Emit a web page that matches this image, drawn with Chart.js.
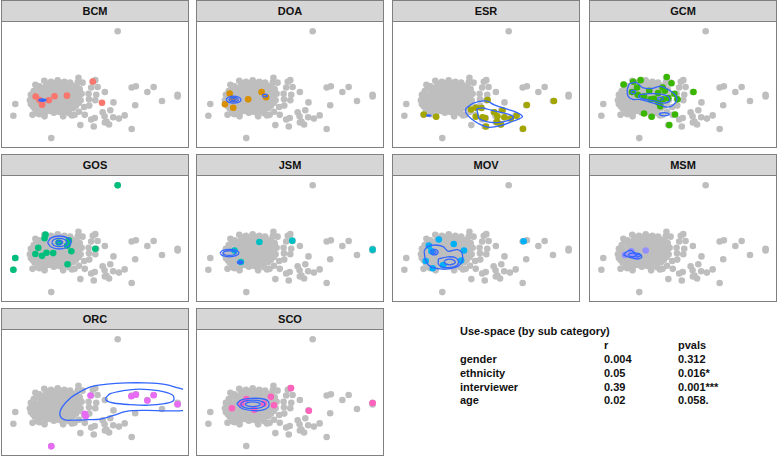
<!DOCTYPE html>
<html>
<head>
<meta charset="utf-8">
<script src="https://cdn.jsdelivr.net/npm/chart.js@4.4.0/dist/chart.umd.min.js"></script>
<style>
  html, body { margin:0; padding:0; background:#fff; }
  #wrap { position:relative; width:778px; height:456px; overflow:hidden; font-family:"Liberation Sans", Arial, sans-serif; }
  .panel { position:absolute; width:188px; height:148px; box-sizing:border-box; border:1px solid #808080; background:#fff; }
  .strip { position:absolute; left:0; top:0; right:0; height:20px; background:#d6d6d6; border-bottom:1px solid #808080;
           font-weight:bold; font-size:11px; line-height:20px; text-align:center; color:#111; }
  .plot { position:absolute; left:0; top:21px; width:186px; height:125px; }
  .plot canvas { display:block; }
  .tbl { position:absolute; font-weight:bold; font-size:11px; line-height:14px; color:#111; white-space:nowrap; }
</style>
</head>
<body>
<div id="wrap"></div>
<script>
// ---------------- data (plot units: x 0..186, y 0..126) ----------------
const categories = ['BCM','DOA','ESR','GCM','GOS','JSM','MOV','MSM','ORC','SCO'];
const catColors  = ['#F8766D','#D89000','#A3A500','#39B600','#00BF7D','#00BFC4','#00B0F6','#9590FF','#E76BF3','#FF62BC'];

// all observations (shown grey in every panel)
const allPoints = [
  [116.7,120.3],[47.3,5.3],[9.7,42],[7.7,29.3],[131.3,59.7],[135.7,61],[154.3,60.3],[147.7,55],
  [179.3,52],[179.3,50],[163,45.3],[135,40.7],[131.3,15],[124,29.7],[118,26.3],[112,27.7],
  [103.3,22],[107.7,20],[105,23],[109,35.3],[112.3,43.7],[103.3,55],[95.7,60.3],[93.3,67.7],
  [90.7,66],[89,59.7],[94.3,52],[86.3,53],[86.7,47],[93.3,46],[87,40.3],[81.7,38.7],
  [101,33],[103,28.7],[91.7,17.7],[89,25.3],[92.7,27],[77.7,19.3],[82.3,30.3],[76.3,33.7],
  [71.7,30.3],[69,29.7],[59.7,28.7],[40.3,28.7],[27.7,30.3],[35,31],[75.7,70.3],[80,65],
  [75,65.3],[30.7,62.7],
  [40,67],[47,66],[54,67.5],[61,66],[67,65],
  [35,61],[42,62],[49,61],[56,62.5],[63,61],[69,62],[74,60],
  [29,56],[36,57],[43,56],[50,57.5],[57,56],[64,57],[70,56],[77,58],
  [26,52],[33,51],[40,52.5],[47,51],[54,52],[61,51.5],[68,52],[74,51],[79,53],
  [25,46],[32,47],[39,46],[46,47.5],[53,46],[60,47],[67,46.5],[73,47],[78,46],
  [26,42],[33,41],[40,42.5],[47,41],[54,42],[61,41.5],[68,42],[73,40],
  [30,37],[37,36],[44,37.5],[51,36],[58,37],[65,36],[70,37.5],
  [33,32],[41,33],[50,32.5],[57,33],[66,32],
  [44,64],[51,64],[58,64.5],[64,63],
  [32,58.5],[39,59],[46,59.5],[53,59],[60,59.5],[67,59],[73,57.5],
  [29,54],[37,54.5],[44,54],[51,54.5],[58,54],[65,54.5],[71,54],[77,55],
  [28,49],[36,49.5],[43,49],[50,49.5],[57,49],[64,49.5],[71,49],[76,50],
  [29,44],[36,44.5],[43,44],[50,44.5],[57,44],[64,44.5],[70,44],[76,43],
  [28,39.5],[35,39],[42,39.5],[49,39],[56,39.5],[63,39],[69,39.5],
  [35,34.5],[46,34.5],[54,34],[62,34.5]
];

// observations of each sub category
const ptsBCM = [[90.7,66.3],[31,50],[50.7,50.3],[63.7,51],[100.3,43.3],[37.7,41.3],[35,46.3],[44.7,46]];
const ptsDOA = [[30,53.3],[25,41.7],[33.7,38],[49.3,47],[63.3,55],[68,49.3],[33.7,47]];
const ptsESR = [[28,30.7],[41,28.3],[77.3,36],[82.7,38],[88.3,37.7],[94.7,46.3],[82.3,28.3],[92,27],
  [101.7,33],[105,28.7],[112.3,27.7],[110.3,35.3],[119,26.3],[125,29.3],[104.3,22.7],[108.7,20],
  [93,17.7],[131.7,15.3],[135.7,41],[164,45.3],[89.3,27.7]];
const ptsGCM = [[31,63],[41,66],[48.7,67.7],[76,71],[81,64.3],[45,59.7],[39.7,55],[57.7,56.3],
  [71.7,59.7],[67,53.7],[74,56.3],[84,53],[104,55],[77.7,48.3],[87.3,47],[72.3,47],[62.7,47.7],
  [52.3,50.3],[45.7,52],[67.3,43.7],[52.3,31.7],[60.3,28.3],[84.7,30.7],[78.7,19.3],[69.3,39.7],[59,47]];
const ptsGOS = [[116.7,120.3],[9.7,42],[7.7,29.3],[41.3,67.3],[40.3,63.3],[33.7,53],[30.7,46.3],[37.7,44.3],
  [42.3,47.7],[49.3,47.3],[64.3,35.3],[68.3,49.3],[64,55.3],[93.3,52],[55,58.7],[65.7,61]];
const ptsJSM = [[61,59.3],[95.3,60.7],[179.3,51],[35,50],[41.7,37.7]];
const ptsMOV = [[132.3,60],[43.7,62],[59.3,57],[33.3,55.3],[70,50],[30,38.7],[37.3,31],[36,49.3],[67,39.3],[48.3,34.3]];
const ptsMSM = [[54,50],[39,49.3],[32.3,45.3],[44,43.3],[40.7,45.3]];
const ptsORC = [[88.3,59.7],[131,59],[135.7,60.7],[154.3,60],[147.7,54.3],[179.3,50.3],[82.3,40],[83.3,37.3],[47.3,5]];
const ptsSCO = [[94,67.7],[112.7,43.3],[179.3,51.7],[73,58.3],[76.3,49.3],[32.3,46],[47.3,56],[55.7,44.3],[42.3,51],[65.7,51]];

// 2-D density contour paths
const ctrBCM = [
  [[34,46.2],[35.2,47.1],[38,47.5],[40.8,47.1],[42,46.2],[40.8,45.3],[38,44.9],[35.2,45.3],[34,46.2]],
  [[35.8,46.2],[36.5,46.6],[38,46.8],[39.5,46.6],[40.2,46.2],[39.5,45.8],[38,45.6],[36.5,45.8],[35.8,46.2]]
];
const ctrDOA = [
  [[26.2,46.7],[28.5,49.3],[34,50.4],[39.5,49.3],[41.8,46.7],[39.5,44.1],[34,43],[28.5,44.1],[26.2,46.7]],
  [[29,46.7],[30.5,48.4],[34,49.1],[37.5,48.4],[39,46.7],[37.5,45],[34,44.3],[30.5,45],[29,46.7]],
  [[31.5,46.7],[32.2,47.4],[34,47.7],[35.8,47.4],[36.5,46.7],[35.8,46],[34,45.7],[32.2,46],[31.5,46.7]],
  [[64,51],[64.8,52.1],[66.7,52.5],[68.6,52.1],[69.4,51],[68.6,49.9],[66.7,49.5],[64.8,49.9],[64,51]]
];
const ctrESR = [
  [[71.7,37],[80,43],[93.3,45.3],[101.7,41],[113.3,37],[125,33],[131,28.7],[128.3,26.3],[121.7,23.7],
   [108.3,18.7],[95,17],[85,21],[76.7,27],[72.3,32],[71.7,37]],
  [[83.3,37],[90,37.7],[98.3,35.3],[108.3,33],[118.3,30.3],[121.7,27.7],[116.7,24.3],[105,22],
   [93.3,23],[85.7,26.3],[84.3,32],[83.3,37]],
  [[30.5,29.7],[31.2,30.1],[33,30.3],[34.8,30.1],[35.5,29.7],[34.8,29.3],[33,29.1],[31.2,29.3],[30.5,29.7]]
];
const ctrGCM = [
  [[36.7,63.7],[44,65.3],[50.7,59.7],[60.7,58.7],[69,61],[77.3,57.7],[84.7,52],[86.7,47],[82.3,40.3],
   [75.7,38.7],[69,41],[57.3,44.3],[47.3,47],[40.7,47],[35.7,50.3],[34.7,57],[36.7,63.7]],
  [[47.3,52],[55.7,53],[67.3,53],[77.3,50.3],[79,45.3],[73.3,43],[62.3,45.3],[50.7,47.7],[46.7,49.7],[47.3,52]],
  [[38.5,55],[39.2,56.4],[41,57],[42.8,56.4],[43.5,55],[42.8,53.6],[41,53],[39.2,53.6],[38.5,55]],
  [[68,31],[69.6,32.2],[73.3,32.7],[77,32.2],[78.6,31],[77,29.8],[73.3,29.3],[69.6,29.8],[68,31]],
  [[66.3,47.7],[67.2,48.8],[69.3,49.2],[71.4,48.8],[72.3,47.7],[71.4,46.6],[69.3,46.2],[67.2,46.6],[66.3,47.7]]
];
const ctrGOS = [
  [[43.5,58.7],[47.1,63.6],[55.7,65.7],[64.3,63.6],[67.9,58.7],[64.3,53.8],[55.7,51.7],[47.1,53.8],[43.5,58.7]],
  [[47.7,58.7],[50.1,61.9],[55.7,63.2],[61.3,61.9],[63.7,58.7],[61.3,55.5],[55.7,54.2],[50.1,55.5],[47.7,58.7]],
  [[52.2,58.7],[53.2,60.1],[55.7,60.7],[58.2,60.1],[59.2,58.7],[58.2,57.3],[55.7,56.7],[53.2,57.3],[52.2,58.7]]
];
const ctrJSM = [
  [[19.7,47.3],[22.7,50.1],[29.7,51.3],[36.7,50.1],[39.7,47.3],[36.7,44.5],[29.7,43.3],[22.7,44.5],[19.7,47.3]],
  [[22.7,47.3],[24.8,49.1],[29.7,49.8],[34.6,49.1],[36.7,47.3],[34.6,45.5],[29.7,44.8],[24.8,45.5],[22.7,47.3]],
  [[37.7,37.3],[38.6,38.4],[40.7,38.8],[42.8,38.4],[43.7,37.3],[42.8,36.2],[40.7,35.8],[38.6,36.2],[37.7,37.3]],
  [[39.2,37.3],[40.7,38],[42.2,37.3],[40.7,36.6],[39.2,37.3]]
];
const ctrMOV = [
  [[28.3,49.3],[31.7,54.3],[40,56],[48.3,54.3],[53.3,49.3],[63.3,51],[68.3,46],[66.7,36],[58.3,31],
   [45,30.3],[35,32.7],[30,39.3],[28.3,49.3]],
  [[43.3,41],[53.3,43.3],[61.7,42],[64.3,36.7],[60,32.7],[48.3,32],[43.3,35.3],[43.3,41]],
  [[49,37.7],[50.8,39.8],[55,40.7],[59.2,39.8],[61,37.7],[59.2,35.6],[55,34.7],[50.8,35.6],[49,37.7]],
  [[35,48.3],[36.2,50.4],[39,51.3],[41.8,50.4],[43,48.3],[41.8,46.2],[39,45.3],[36.2,46.2],[35,48.3]],
  [[37.2,48.3],[39,49.6],[40.8,48.3],[39,47],[37.2,48.3]]
];
const ctrMSM = [
  [[30.7,45.3],[34,48.7],[39,50.3],[42.3,47.7],[47.3,46.7],[50,43.3],[46.7,41],[40.7,42],[35.7,43.3],[30.7,45.3]],
  [[36,45.3],[37.2,46.7],[40,47.3],[42.8,46.7],[44,45.3],[42.8,43.9],[40,43.3],[37.2,43.9],[36,45.3]],
  [[43.5,44.5],[46,46],[48.5,44.5],[46,43],[43.5,44.5]]
];
const ctrORC = [
  [[185,66.5],[180.7,67.7],[165.7,71.7],[145.7,73.3],[125.7,73.3],[105.7,72],[89,69.3],[77.3,63.7],[67.3,57],
   [59,47.7],[56.3,39.3],[60.7,33.7],[70.7,33.3],[85.7,33.7],[99,34.3],[112.3,38.3],[125.7,42.7],
   [145.7,43.7],[165.7,43.3],[180.7,43.3],[185,43.5]],
  [[104,57],[109,61.7],[122.3,65],[139,66.7],[159,65],[174,60.3],[175,54.3],[165.7,51],[149,49.3],
   [129,50],[112.3,51.7],[105,54.3],[104,57]]
];
const ctrSCO = [
  [[37.3,51],[42.3,55],[52.3,56.7],[65.7,56],[70.7,52.7],[70,47],[62.3,43.7],[52.3,43.7],[42.3,46],[37.3,51]],
  [[41,50.3],[44.9,53.5],[54,54.8],[63.1,53.5],[67,50.3],[63.1,47.1],[54,45.8],[44.9,47.1],[41,50.3]],
  [[46,50.3],[48.4,52.1],[54,52.8],[59.6,52.1],[62,50.3],[59.6,48.5],[54,47.8],[48.4,48.5],[46,50.3]]
];

const catPoints   = [ptsBCM, ptsDOA, ptsESR, ptsGCM, ptsGOS, ptsJSM, ptsMOV, ptsMSM, ptsORC, ptsSCO];
const catContours = [ctrBCM, ctrDOA, ctrESR, ctrGCM, ctrGOS, ctrJSM, ctrMOV, ctrMSM, ctrORC, ctrSCO];

// correlation table
const tableTitle  = 'Use-space (by sub category)';
const tableHeader = ['r', 'pvals'];
const tableRows   = ['gender', 'ethnicity', 'interviewer', 'age'];
const rValues     = ['0.004', '0.05', '0.39', '0.02'];
const pValues     = ['0.312', '0.016*', '0.001***', '0.058.'];

// ---------------- layout ----------------
const colLeft = [1, 196, 392, 589];
const rowTop  = [0, 154, 308];
const wrap = document.getElementById('wrap');
const toXY = arr => arr.map(p => ({x: p[0], y: p[1]}));

categories.forEach((cat, i) => {
  const panel = document.createElement('div');
  panel.className = 'panel';
  panel.style.left = colLeft[i % 4] + 'px';
  panel.style.top = rowTop[Math.floor(i / 4)] + 'px';
  const strip = document.createElement('div');
  strip.className = 'strip';
  strip.textContent = cat;
  panel.appendChild(strip);
  const plot = document.createElement('div');
  plot.className = 'plot';
  const cv = document.createElement('canvas');
  cv.width = 186; cv.height = 125;
  plot.appendChild(cv);
  panel.appendChild(plot);
  wrap.appendChild(panel);

  const datasets = [];
  catContours[i].forEach(path => {
    datasets.push({ type:'scatter', data: toXY(path), showLine:true, borderColor:'#3366FF', borderWidth:1.3,
      pointRadius:0, tension:0.35, fill:false, order:0 });
  });
  datasets.push({ type:'scatter', data: toXY(catPoints[i]), backgroundColor: catColors[i], borderWidth:0,
    pointRadius:3.3, order:1 });
  datasets.push({ type:'scatter', data: toXY(allPoints), backgroundColor:'#bebebe', borderWidth:0,
    pointRadius:3.3, order:2 });

  new Chart(cv, {
    type:'scatter',
    data:{ datasets },
    options:{
      responsive:false, animation:false, devicePixelRatio:1,
      layout:{ padding:0 },
      plugins:{ legend:{display:false}, tooltip:{enabled:false}, title:{display:false} },
      scales:{
        x:{ type:'linear', display:false, min:0, max:186 },
        y:{ type:'linear', display:false, min:0, max:126 }
      }
    }
  });
});

// ---------------- table text ----------------
function addText(txt, left, top) {
  const d = document.createElement('div');
  d.className = 'tbl';
  d.style.left = left + 'px';
  d.style.top = top + 'px';
  d.textContent = txt;
  wrap.appendChild(d);
}
addText(tableTitle, 460, 324);
addText(tableHeader[0], 604, 338);
addText(tableHeader[1], 678, 338);
tableRows.forEach((lab, k) => {
  const t = 352 + k * 13.8;
  addText(lab, 460, t);
  addText(rValues[k], 604, t);
  addText(pValues[k], 678, t);
});
</script>
</body>
</html>
